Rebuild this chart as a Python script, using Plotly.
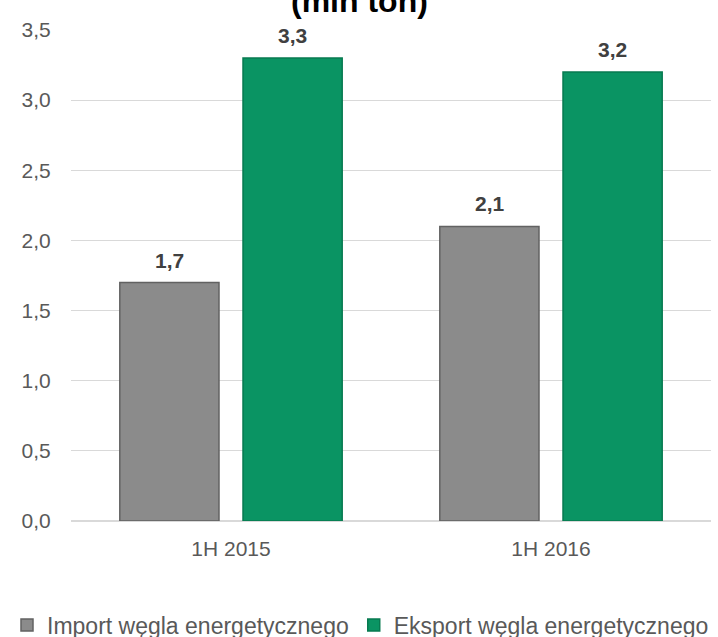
import plotly.graph_objects as go

periods = ["1H 2015", "1H 2016"]
import_vals = [1.7, 2.1]
export_vals = [3.3, 3.2]
series_names = ["Import węgla energetycznego", "Eksport węgla energetycznego"]

FONT = "Liberation Sans, Arial"

fig = go.Figure()

fig.add_trace(go.Bar(
    x=periods,
    y=import_vals,
    name=series_names[0],
    marker=dict(color="#8b8b8b", line=dict(color="#626262", width=1.5)),
))

fig.add_trace(go.Bar(
    x=periods,
    y=export_vals,
    name=series_names[1],
    marker=dict(color="#0a9463", line=dict(color="#077a50", width=1.5)),
))

# value labels above the bars, a bit higher than plotly's "outside" text
for vals, shift in [(import_vals, -61.5), (export_vals, 61.5)]:
    for p, v in zip(periods, vals):
        fig.add_annotation(
            x=p,
            y=v,
            xshift=shift,
            yshift=9,
            yanchor="bottom",
            text=f"<b>{v:.1f}</b>".replace(".", ","),
            showarrow=False,
            font=dict(family=FONT, size=21, color="#404040"),
        )

# second line of the title; the first line sits above the visible area
fig.add_annotation(
    xref="paper",
    yref="paper",
    x=0.45,
    y=1.018,
    yanchor="bottom",
    xanchor="center",
    text="<b>(mln ton)</b>",
    showarrow=False,
    font=dict(family=FONT, size=32, color="#000000"),
)

fig.update_layout(
    width=718,
    height=637,
    autosize=False,
    margin=dict(l=71, r=7, t=30, b=116, autoexpand=False),
    paper_bgcolor="white",
    plot_bgcolor="white",
    separators=", ",
    barmode="group",
    bargap=0.23,
    bargroupgap=0.195,
    font=dict(family=FONT, color="#595959", size=21),
    legend=dict(
        orientation="h",
        x=-0.1,
        xanchor="left",
        y=-0.212,
        yanchor="middle",
        font=dict(size=23, color="#595959"),
        itemwidth=30,
        tracegroupgap=0,
    ),
)

fig.update_yaxes(
    range=[0, 3.5],
    dtick=0.5,
    tickformat=".1f",
    showgrid=True,
    gridcolor="#d9d9d9",
    gridwidth=1,
    zeroline=True,
    zerolinecolor="#d9d9d9",
    zerolinewidth=2,
    showline=False,
    ticks="outside",
    ticklen=15,
    tickcolor="white",
    tickfont=dict(size=21, color="#595959"),
)

fig.update_xaxes(
    showline=False,
    showgrid=False,
    ticks="outside",
    ticklen=9,
    tickcolor="white",
    tickfont=dict(size=21, color="#595959"),
)

# drop the default page margin so the figure fills the window
fig.write_html(
    "out.html",
    config={"displayModeBar": False},
    post_script="document.body.style.margin = '0';",
)
